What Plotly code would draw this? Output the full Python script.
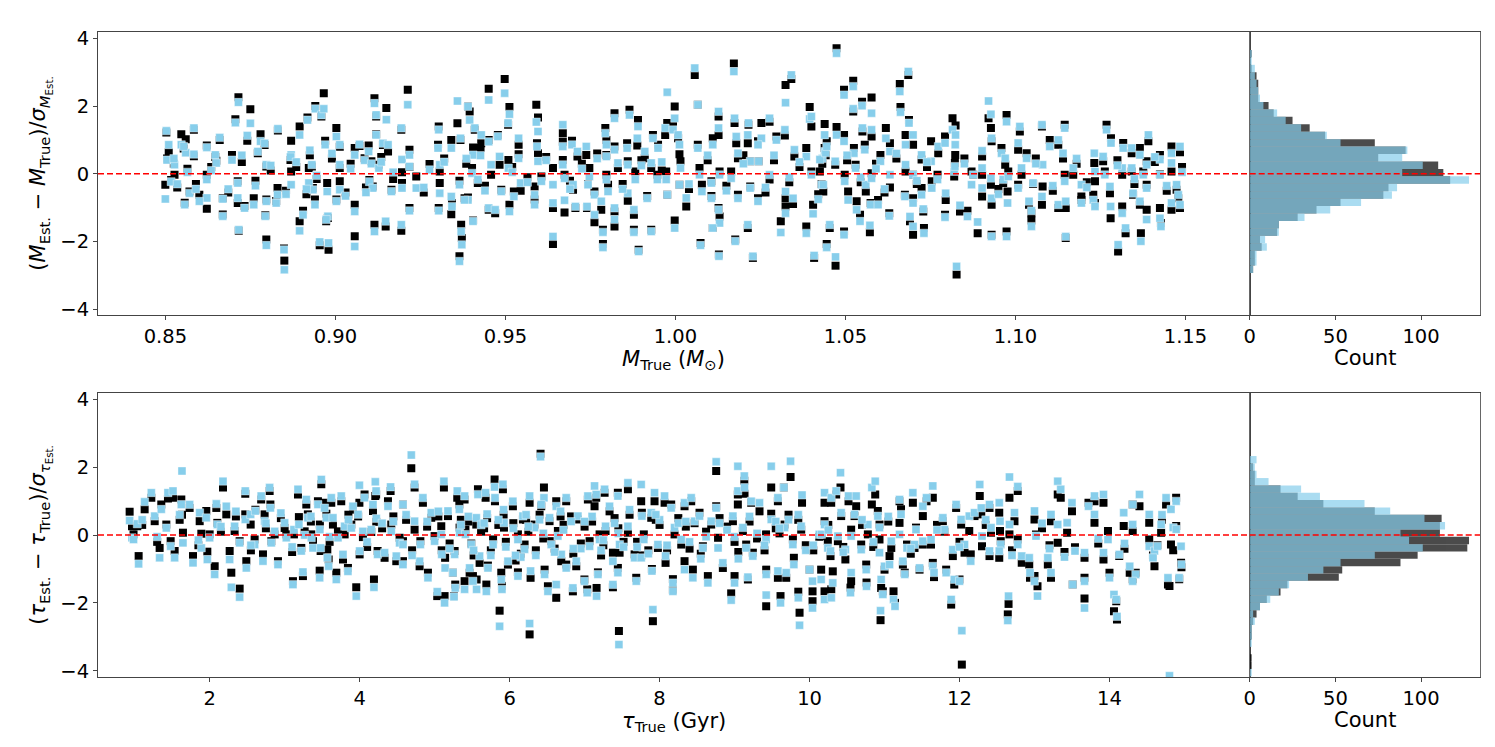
import numpy as np
import plotly.graph_objects as go
from plotly.subplots import make_subplots

# ---- top panel: mass residuals (black = first estimate, blue = second) ----
m_true = [
    .8503, .8510, .8505, .8500, .8517, .8527, .8547, .8560, .8557, .8554,
    .8571, .8584, .8584, .8622, .8622, .8622, .8600, .8647, .8660, .8669,
    .8669, .8650, .8696, .8706, .8715, .8750, .8741, .8713, .8716, .8713,
    .8733, .8760, .8772, .8780, .8792, .8797, .8797, .8794, .8797, .8826,
    .8830, .8831, .8850, .8849, .8870, .8868, .8870, .8895, .8895, .8905,
    .8918, .8922, .8931, .8934, .8941, .8959, .8966, .8970, .8976, .8940,
    .8980, .8954, .8978, .8973, .9003, .9013, .9013, .9013, .9003, .9057,
    .9057, .9057, .9071, .9086, .9098, .9100, .9115, .9120, .9150, .9120,
    .9140, .9106, .9110, .9115, .9148, .9155, .9128, .9165, .9194, .9194,
    .9213, .9196, .9196, .9218, .9218, .9238, .9218, .9277, .9304, .9302,
    .9307, .9307, .9304, .9341, .9343, .9341, .9359, .9368, .9365, .9370,
    .9372, .9365, .9390, .9395, .9410, .9405, .9402, .9390, .9405, .9380,
    .9427, .9429, .9419, .9451, .9451, .9458, .9451, .9470, .9483, .9478,
    .9498, .9512, .9508, .9509, .9488, .9512, .9525, .9545, .9539, .9539,
    .9591, .9596, .9593, .9596, .9586, .9586, .9606, .9640, .9640, .9640,
    .9669, .9669, .9696, .9669, .9674, .9674, .9699, .9706, .9712, .9738,
    .9747, .9743, .9740, .9762, .9762, .9782, .9787, .9787, .9794, .9797,
    .9797, .9797, .9802, .9821, .9821, .9821, .9821, .9831, .9858, .9860,
    .9860, .9865, .9878, .9878, .9890, .9888, .9882, .9892, .9910, .9934,
    .9929, .9929, .9917, .9949, .9947, .9976, .9970, .9973, .9976, .9998,
    .9998, .9993, 1.0008, 1.0012, 1.0015, 1.0012, 1.0032, 1.0057, 1.0066, 1.0066,
    1.0071, 1.0078, 1.0074, 1.0106, 1.0106, 1.0110, 1.0127, 1.0127, 1.0130, 1.0130,
    1.0127, 1.0128, 1.0110, 1.0172, 1.0174, 1.0179, 1.0184, 1.0176, 1.0164, 1.0184,
    1.0215, 1.0213, 1.0220, 1.0220, 1.0213, 1.0228, 1.0253, 1.0243, 1.0245, 1.0243,
    1.0277, 1.0297, 1.0277, 1.0310, 1.0324, 1.0341, 1.0324, 1.0324, 1.0322, 1.0350,
    1.0346, 1.0385, 1.0395, 1.0400, 1.0405, 1.0385, 1.0408, 1.0400, 1.0439, 1.0439,
    1.0432, 1.0430, 1.0474, 1.0425, 1.0442, 1.0445, 1.0435, 1.0454, 1.0445, 1.0471,
    1.0474, 1.0470, 1.0496, 1.0496, 1.0496, 1.0498, 1.0508, 1.0523, 1.0523, 1.0525,
    1.0530, 1.0533, 1.0543, 1.0549, 1.0550, 1.0557, 1.0560, 1.0577, 1.0572, 1.0577,
    1.0577, 1.0574, 1.0596, 1.0603, 1.0619, 1.0631, 1.0631, 1.0629, 1.0660, 1.0662,
    1.0677, 1.0685, 1.0687, 1.0677, 1.0675, 1.0699, 1.0690, 1.0699, 1.0699, 1.0699,
    1.0729, 1.0731, 1.0724, 1.0724, 1.0752, 1.0754, 1.0773, 1.0771, 1.0795, 1.0793,
    1.0793, 1.0815, 1.0824, 1.0823, 1.0820, 1.0822, 1.0837, 1.0859, 1.0827, 1.0871,
    1.0876, 1.0889, 1.0902, 1.0902, 1.0902, 1.0921, 1.0928, 1.0930, 1.0930, 1.0928,
    1.0930, 1.0959, 1.0964, 1.0974, 1.0970, 1.0977, 1.0974, 1.0979, 1.1013, 1.1008,
    1.1008, 1.1018, 1.1033, 1.1040, 1.1047, 1.1047, 1.1052, 1.1078, 1.1080, 1.1078,
    1.1101, 1.1126, 1.1126, 1.1145, 1.1145, 1.1148, 1.1148, 1.1140, 1.1170, 1.1194,
    1.1194, 1.1232, 1.1234, 1.1229, 1.1234, 1.1268, 1.1258, 1.1263, 1.1281, 1.1278,
    1.1280, 1.1302, 1.1317, 1.1314, 1.1314, 1.1324, 1.1342, 1.1342, 1.1346, 1.1366,
    1.1366, 1.1369, 1.1376, 1.1391, 1.1386, 1.1386, 1.1386, 1.1425, 1.1425, 1.1425,
    1.1428, 1.1459, 1.1459, 1.1459, 1.1474, 1.1484, 1.1484, 1.1479,
]
m_dev_black = [
    1.22, 0.64, 0.45, -0.32, -0.18, -0.03, 1.17, 1.02, -0.85, 0.75,
    -0.52, 1.30, 0.52, -0.03, -1.03, 0.84, -0.62, 0.50, 1.00, -1.20,
    -0.72, 0.39, 0.56, 1.61, 2.26, 1.91, 0.98, -0.22, -1.68, -0.86,
    -0.95, -0.72, 0.61, 1.17, 0.85, 0.22, -1.94, -1.22, -0.76, -0.80,
    -0.42, 1.28, -2.56, -2.20, 0.98, 0.41, 0.07, -1.40, 1.40, -1.09,
    1.66, 0.17, 0.22, -0.42, 2.00, 1.69, 2.38, 0.98, -0.27, -0.76,
    -2.24, -2.11, -1.30, -1.40, 1.35, 0.80, 0.17, -0.22, -0.76, -1.84,
    -0.91, 0.76, 0.82, 0.46, 0.84, -0.18, 2.23, 1.69, 1.94, 1.17,
    0.85, 0.37, -0.37, -1.50, -1.55, 0.66, 0.27, -0.47, 1.30, -1.68,
    2.48, 0.05, -0.27, 0.71, 0.20, -0.08, -1.01, 0.29, 1.40, 0.86,
    0.07, -0.27, -1.01, 1.00, -0.86, -1.19, 1.49, 1.00, -0.20, -1.50,
    -1.89, -2.43, 1.99, 1.84, 1.30, 0.78, 0.17, -0.70, -1.38, -0.72,
    0.76, 0.90, -0.27, 2.51, 1.00, -0.03, -1.06, -1.16, 0.27, 1.15,
    2.80, 1.97, 1.45, 0.41, -0.47, -0.91, -0.52, -0.50, 0.86, 0.58,
    2.04, 1.66, 0.90, 0.61, -0.37, -0.76, -0.08, 0.17, -1.01, -2.07,
    1.20, 0.95, 0.98, 0.41, -0.03, -1.14, -0.47, -1.01, 0.51, 0.56,
    0.17, -0.30, -1.01, -1.43, -0.52, -1.06, -1.65, -2.07, 1.35, 1.00,
    0.56, -0.03, -0.32, -1.11, -1.55, 1.79, 0.81, 0.17, 0.90, 0.37,
    -0.79, 1.89, -1.21, -1.65, 1.59, 0.84, 0.07, -2.24, 0.46, 1.15,
    0.17, -1.65, -0.65, 0.86, -0.03, 1.50, 1.15, 0.07, -0.62, -1.38,
    1.99, 1.45, 1.05, 0.58, 0.37, -0.32, -0.96, 2.92, 2.04, 0.86,
    0.17, -0.32, -2.04, -0.22, -0.65, 1.05, 1.69, 1.15, 0.07, -1.26,
    -1.01, -2.38, -1.60, 3.26, 1.50, 0.90, 0.46, -1.94, 0.07, -0.62,
    1.45, 0.90, 0.37, -0.37, -1.60, -2.48, 1.50, 0.96, 0.37, -0.72,
    1.54, 1.10, -0.17, -1.40, 2.62, 2.80, -0.72, -0.96, 1.13, 0.51,
    -0.89, 0.76, 1.97, 1.40, -0.91, -1.55, -2.48, 0.07, 1.47, 0.76,
    0.30, -0.30, 3.71, 0.07, 0.55, 0.96, -0.52, -1.60, -2.07, -2.71,
    1.38, 0.27, 2.48, -1.70, 1.15, -0.03, -0.52, 2.75, 1.84, 0.76,
    0.27, -0.81, -1.21, 2.13, 1.25, 0.86, -0.52, 2.25, -1.72, 1.10,
    0.02, -0.86, -0.77, 0.56, 1.35, 0.90, -0.40, -1.16, 2.65, 1.97,
    1.15, 2.92, 1.59, 0.07, -0.62, 0.86, -1.40, -1.80, -0.03, -0.72,
    -1.11, -1.60, 0.42, -0.42, 0.96, -0.22, 0.61, -0.03, -0.77, -1.21,
    1.10, 1.64, 1.43, 0.56, -0.08, 0.32, -1.11, -1.09, -2.97, 0.07,
    -0.03, -1.75, -0.67, 0.51, -0.03, 1.64, 1.35, 0.96, -0.91, -0.32,
    -1.80, 0.76, -0.27, 1.74, 0.27, -0.52, -1.70, 0.07, 1.25, 0.71,
    -0.32, -0.03, 0.61, -0.91, -1.38, -1.16, -0.30, 1.40, -0.37, -0.91,
    1.00, 0.86, -1.01, 1.45, -0.03, -1.01, -1.89, 0.45, -0.03, -0.67,
    -0.77, 0.32, -0.22, -0.62, -0.86, 1.45, 0.37, 0.07, 1.05, -0.57,
    -1.31, -2.29, 0.91, -0.03, -0.96, -1.75, 0.61, 0.07, -0.62, 0.76,
    -0.91, -1.75, 0.07, 0.96, 0.37, -1.06, -0.32, 0.56, -0.01, -1.01,
    -1.45, 0.81, 0.07, -1.06, -0.47, -1.01, 0.64, -0.72,
]
m_dev_blue = [
    1.27, 0.86, 0.41, -0.74, -0.23, 0.27, 0.86, 0.62, -0.91, 0.81,
    -0.57, 1.35, 0.58, -0.17, -0.71, 0.78, -0.81, 0.56, 1.07, -1.25,
    -0.74, 0.32, 0.41, 1.51, 2.11, 1.49, 1.13, -0.27, -1.65, -0.71,
    -1.01, -0.91, 0.66, 0.96, 0.90, 0.27, -2.11, -1.25, -0.81, -0.86,
    -0.62, 1.33, -2.83, -2.24, 0.56, 0.50, -0.32, -1.68, 1.15, -1.21,
    1.59, -0.27, 0.27, -0.47, 1.92, 1.74, 1.92, 0.86, -0.52, -0.91,
    -2.04, -2.01, -1.25, -1.35, 1.10, 0.86, 0.27, -0.47, -0.81, -2.14,
    -1.11, 0.56, 0.87, 0.40, 0.66, -0.23, 2.08, 1.74, 1.60, 1.15,
    0.90, 0.30, -0.42, -1.70, -1.40, 0.86, 0.17, -0.52, 1.35, -1.50,
    2.04, 0.42, -0.42, 0.56, 0.22, -0.42, -1.09, 0.12, 1.30, 0.76,
    0.27, -0.57, -1.09, 0.76, -0.96, -0.67, 2.15, 1.05, -0.32, -1.70,
    -2.09, -2.58, 1.99, 1.59, 1.35, 0.56, 0.02, -0.77, -1.40, -0.77,
    0.54, 1.15, -0.17, 2.18, 0.95, 0.27, -1.01, -1.06, 0.51, 1.10,
    2.38, 1.76, 1.50, 0.17, -0.52, -1.11, -0.67, -0.27, 1.05, 0.46,
    1.53, 1.25, 0.81, 0.37, -0.62, -0.91, -0.22, -0.32, -0.86, -1.85,
    1.45, 0.81, 0.86, 0.27, -0.13, -0.78, -0.32, -0.96, 0.66, 0.81,
    -0.08, -0.32, -0.96, -1.21, -0.62, -0.81, -1.72, -2.17, 1.20, 0.86,
    0.51, -0.17, -0.52, -1.01, -1.35, 1.64, 0.71, 0.32, 0.76, 0.27,
    -0.57, 1.74, -1.06, -1.72, 1.40, 1.05, -0.17, -2.29, 0.66, 1.05,
    0.32, -1.70, -0.72, 0.76, -0.17, 2.41, 1.35, -0.17, -0.62, -1.60,
    1.64, 1.30, 1.15, 0.86, 0.17, -0.32, -0.71, 3.12, 2.04, 0.76,
    -0.03, -0.52, -2.11, -0.27, -0.72, 0.86, 1.84, 1.35, -0.03, -1.45,
    -1.06, -2.43, -1.60, 3.02, 1.64, 1.10, 0.61, -1.99, -0.13, -0.72,
    1.50, 1.15, 0.37, -0.42, -1.50, -2.43, 1.05, 0.86, 0.37, -0.81,
    1.64, 1.00, -0.03, -1.73, 2.10, 2.92, -0.52, -1.16, 1.30, 0.71,
    -0.72, 0.51, 1.62, 1.69, -1.18, -1.75, -2.41, -0.03, 1.15, 0.66,
    0.45, -0.32, 3.56, 0.42, 0.62, 0.81, -0.32, -1.50, -2.17, -2.45,
    1.15, 0.37, 2.33, -1.80, 0.96, -0.22, -0.77, 2.58, 1.92, 0.61,
    0.17, -1.06, -1.40, 2.01, 1.35, 0.71, -0.32, 1.79, -1.52, 1.30,
    -0.13, -0.91, -0.91, 0.37, 1.05, 0.66, -0.03, -1.24, 2.43, 1.82,
    0.86, 3.02, 1.50, 0.27, -0.67, 1.15, -1.26, -1.55, -0.03, -0.86,
    -1.04, -1.75, 0.56, -0.62, 0.37, -0.42, 0.81, -0.17, -0.57, -1.28,
    0.91, 1.30, 1.15, 0.86, 0.07, 0.22, -0.93, -1.26, -2.73, -0.32,
    -0.03, -1.42, -0.42, 0.68, 0.17, 2.15, 1.76, 1.05, -0.72, -0.13,
    -1.85, 0.61, -0.17, 1.54, 0.46, -0.86, -1.85, -0.08, 1.40, 0.91,
    -0.42, 0.17, 0.46, -0.81, -1.55, -1.09, -0.27, 1.45, 0.27, -0.67,
    0.81, 1.00, -0.91, 1.35, -0.22, -0.81, -1.85, 0.61, 0.17, -0.32,
    -0.86, 0.61, 0.07, -0.77, -0.96, 1.30, 0.51, -0.03, 0.91, -0.37,
    -0.96, -2.09, 0.76, 0.17, -1.16, -1.60, 0.76, 0.17, -0.57, 0.56,
    -0.81, -1.99, -0.03, 1.15, 0.27, -1.35, -0.42, 0.42, -0.03, -1.31,
    -1.55, 0.61, 0.32, -0.86, -0.32, -0.91, 0.81, -0.62,
]
# densely packed points close to zero (read more loosely from the crowded band)
m_true_band = [
    0.8525, 0.8535, 0.8565, 0.8590, 0.8635, 0.8685, 0.8725, 0.8765, 0.8810, 0.8855,
    0.8885, 0.8915, 0.8925, 0.8945, 0.8990, 0.9030, 0.9045, 0.9090, 0.9135, 0.9170,
    0.9260, 0.9320, 0.9385, 0.9440, 0.9520, 0.9565, 0.9620, 0.9690, 0.9725, 0.9770,
    0.9845, 0.9900, 0.9960, 1.0040, 1.0095, 1.0150, 1.0200, 1.0265, 1.0290, 1.0335,
    1.0365, 1.0420, 1.0505, 1.0545, 1.0590, 1.0615, 1.0650, 1.0710, 1.0740, 1.0850,
    1.0950, 1.1060, 1.1110, 1.1180, 1.1210, 1.1300, 1.1350, 1.1410, 1.1445, 1.1490,
]
m_band_black = [
    0.30, -0.40, 0.15, -0.30, 0.20, -0.55, 0.35, -0.20, 0.10, -0.50,
    0.20, -0.60, 0.55, -0.15, 0.45, -0.55, 0.30, -0.40, 0.50, -0.15,
    -0.55, 0.45, 0.30, -0.35, 0.20, -0.10, 0.50, -0.20, 0.30, 0.60,
    -0.30, 0.40, 0.10, -0.45, 0.40, -0.35, 0.55, -0.55, 0.40, -0.25,
    0.20, -0.60, 0.40, -0.25, 0.30, -0.55, 0.45, -0.30, 0.20, 0.45,
    -0.45, 0.45, -0.50, 0.30, -0.25, 0.40, -0.30, 0.35, -0.50, 0.20,
]
m_band_blue = [
    0.45, -0.30, 0.05, -0.45, 0.10, -0.45, 0.55, -0.35, 0.25, -0.60,
    0.35, -0.45, 0.70, -0.05, 0.60, -0.65, 0.15, -0.55, 0.35, 0.05,
    -0.40, 0.35, 0.45, -0.50, 0.05, -0.25, 0.40, -0.45, 0.15, 0.45,
    -0.45, 0.25, 0.35, -0.30, 0.55, -0.50, 0.30, -0.40, 0.55, -0.10,
    0.35, -0.75, 0.55, -0.10, 0.15, -0.45, 0.60, -0.20, 0.35, 0.30,
    -0.60, 0.30, -0.35, 0.45, -0.40, 0.25, -0.15, 0.50, -0.35, 0.05,
]

# ---- bottom panel: age residuals ----
tau_true = [
    0.933, 0.964, 0.985, 1.053, 1.035, 1.133, 1.222, 1.267, 1.333, 1.355,
    1.444, 1.511, 1.422, 1.480, 1.533, 1.622, 1.631, 1.644, 1.733, 1.778,
    1.867, 1.889, 1.955, 1.969, 2.000, 2.089, 2.067, 2.102, 2.178, 2.222,
    2.267, 2.289, 2.333, 2.400, 2.400, 2.475, 2.475, 2.489, 2.547, 2.600,
    2.610, 2.687, 2.733, 2.711, 2.800, 2.810, 2.822, 2.911, 2.867, 3.000,
    3.022, 3.111, 3.124, 3.178, 3.190, 3.222, 3.244, 3.289, 3.310, 3.267,
    3.356, 3.378, 3.444, 3.489, 3.470, 3.480, 3.467, 3.533, 3.556, 3.569,
    3.587, 3.622, 3.689, 3.644, 3.711, 3.755, 3.778, 3.800, 3.844, 3.889,
    3.911, 3.955, 3.997, 3.980, 4.000, 4.044, 4.066, 4.155, 4.178, 4.191,
    4.209, 4.220, 4.222, 4.240, 4.333, 4.378, 4.422, 4.413, 4.489, 4.533,
    4.578, 4.689, 4.733, 4.620, 4.578, 4.578, 4.733, 4.800, 4.844, 4.810,
    4.911, 4.955, 5.000, 5.035, 5.133, 5.124, 5.089, 5.095, 5.178, 5.140,
    5.267, 5.244, 5.275, 5.302, 5.330, 5.333, 5.258, 5.400, 5.411, 5.400,
    5.467, 5.511, 5.489, 5.556, 5.578, 5.600, 5.560, 5.680, 5.690, 5.711,
    5.800, 5.805, 5.780, 5.867, 5.889, 5.898, 5.911, 5.925, 5.978, 6.044,
    6.111, 6.111, 6.178, 6.200, 6.267, 6.267, 6.280, 6.333, 6.413, 6.458,
    6.422, 6.467, 6.511, 6.533, 6.555, 6.622, 6.622, 6.644, 6.689, 6.755,
    6.755, 6.844, 6.889, 6.911, 6.998, 7.044, 7.035, 7.067, 7.133, 7.155,
    7.160, 7.178, 7.200, 7.267, 7.280, 7.333, 7.378, 7.378, 7.444, 7.458,
    7.444, 7.467, 7.578, 7.578, 7.667, 7.689, 7.755, 7.764, 7.790, 7.755,
    7.889, 7.911, 7.898, 7.933, 7.978, 8.067, 8.080, 8.178, 8.178, 8.155,
    8.200, 8.289, 8.333, 8.333, 8.422, 8.444, 8.467, 8.533, 8.578, 8.644,
    8.689, 8.755, 8.755, 8.780, 8.844, 8.955, 8.978, 9.000, 9.044, 9.044,
    9.133, 9.130, 9.111, 9.155, 9.178, 9.222, 9.244, 9.333, 9.422, 9.422,
    9.420, 9.489, 9.489, 9.578, 9.578, 9.613, 9.667, 9.658, 9.747, 9.689,
    9.778, 9.791, 9.867, 9.850, 9.900, 9.889, 10.000, 10.040, 10.040, 10.130,
    10.200, 10.200, 5.45, 5.62, 5.70, 5.85, 5.95, 6.05, 6.15, 6.25,
    6.35, 6.40, 6.60, 6.72, 6.82, 6.95, 7.10, 7.22, 7.40, 7.52,
    7.60, 7.85, 8.00, 8.25, 8.40, 8.62, 8.90, 9.05, 9.30, 9.55,
    9.72, 9.95, 10.413, 10.289, 10.355, 10.160, 10.244, 10.280, 10.155, 10.200,
    10.310, 10.290, 10.378, 10.422, 10.478, 10.555, 10.555, 10.546, 10.520, 10.622,
    10.600, 10.689, 10.778, 10.756, 10.760, 10.831, 10.876, 10.911, 10.933, 10.947,
    10.955, 10.978, 10.933, 11.000, 11.067, 11.120, 11.140, 11.090, 11.200, 11.200,
    11.220, 11.300, 11.245, 11.270, 11.400, 11.420, 11.378, 11.467, 11.511, 11.511,
    11.560, 11.644, 11.620, 11.644, 11.660, 11.778, 11.822, 11.800, 11.889, 11.911,
    11.930, 11.955, 12.022, 12.067, 12.031, 12.000, 12.130, 12.150, 12.200, 12.270,
    12.290, 12.300, 12.400, 12.400, 12.420, 12.530, 12.540, 12.550, 12.530, 12.644,
    12.654, 12.666, 12.666, 12.777, 12.733, 12.777, 12.830, 12.930, 12.940, 13.000,
    13.040, 13.000, 13.020, 13.178, 13.200, 13.220, 13.220, 13.310, 13.350, 13.310,
    13.435, 13.500, 13.510, 13.540, 13.667, 13.667, 13.667, 13.720, 13.800, 13.800,
    13.920, 13.920, 13.980, 14.000, 14.060, 14.090, 14.100, 14.130, 14.190, 14.310,
    14.270, 14.350, 14.310, 14.400, 14.310, 14.530, 14.530, 14.600, 14.580, 14.689,
    14.640, 14.780, 14.755, 14.820, 14.850, 14.889, 14.955, 14.960, 14.930, 14.800, 14.890,
]
tau_dev_black = [
    0.69, 0.26, 0.02, -0.62, 0.26, 0.76, 1.10, 0.41, -0.38, 0.90,
    1.08, 1.10, 0.31, -0.18, -0.47, 1.05, 0.60, 0.07, 0.80, -0.62,
    0.41, 0.04, 0.71, -0.49, 0.02, 0.80, -0.92, 0.36, 1.40, 0.61,
    -0.47, -1.11, 0.12, -1.58, -0.18, 0.61, 1.22, -0.77, 0.31, -0.13,
    0.75, 1.05, 0.61, -0.57, 1.30, 0.90, -0.18, -0.77, 0.02, 0.21,
    0.02, -1.36, 0.02, 1.20, 0.53, -0.38, -1.21, 0.90, 0.61, 0.11,
    0.02, -0.18, 1.00, 1.50, 0.31, -0.47, -1.05, 0.95, 0.63, -0.43,
    -0.72, 0.95, -1.11, 0.31, 0.11, 1.00, -0.72, 0.02, -0.97, 0.31,
    0.75, -1.54, 0.95, 0.55, -0.57, -0.06, 1.20, 0.09, 0.71, -1.31,
    1.15, 1.20, 0.39, -0.47, -0.67, 1.00, 0.31, 1.30, -0.77, -0.08,
    0.90, 1.97, 1.40, 0.45, -0.18, -0.77, 0.16, -0.92, 0.95, -0.18,
    -1.11, 0.51, -0.03, -1.80, -1.80, 1.40, 0.26, -0.45, 0.56, -0.67,
    -0.47, -1.11, -1.46, 1.10, 0.90, 0.22, -1.80, 1.05, 0.16, -1.36,
    -1.11, -1.21, -0.25, 0.31, 1.35, -0.82, -1.31, 1.10, -1.46, -0.90,
    1.64, 1.00, -0.13, -2.23, -1.11, -1.50, 1.35, 0.22, -0.87, 0.85,
    0.02, -1.10, 0.46, -0.28, -2.93, 0.95, -1.26, 0.31, 2.40, 1.40,
    0.85, -1.02, -1.51, 0.41, -0.18, -1.85, 1.00, 0.12, -0.77, -0.87,
    1.00, -1.66, -0.92, 0.46, -1.31, 1.05, -1.60, -0.18, 0.85, 1.10,
    -1.56, -1.10, 0.02, 1.25, 0.12, 0.70, -0.52, -1.54, 1.25, -2.83,
    -0.97, -0.52, 1.35, 0.07, -0.57, -1.26, 1.00, 0.66, 0.02, -0.60,
    0.51, -2.54, -1.00, 1.00, -0.38, 0.95, -0.82, -1.61, -1.30, 0.90,
    0.02, -0.28, -0.77, 0.85, 1.00, -1.02, 0.35, 0.66, -0.33, -1.21,
    0.31, 1.89, 0.85, -0.08, -0.97, -1.72, 0.41, -1.21, 0.90, 1.20,
    1.22, 1.60, 0.12, -0.28, -1.31, 0.95, -0.52, 0.70, -2.10, -1.02,
    0.02, 1.40, 0.63, 1.00, -1.26, -1.80, 0.31, 1.40, 1.71, -1.26,
    -0.13, -0.67, -2.29, -1.67, 0.95, 0.16, -1.02, -1.66, -1.95, -0.05,
    0.95, 0.41, 0.40, 0.10, 0.50, 0.30, -0.20, 0.35, -0.55, 0.10,
    -0.45, 0.60, -0.40, 0.30, 0.55, -0.25, 0.40, -0.60, 0.50, -0.20,
    0.60, -0.45, 0.30, 0.50, -0.40, 0.10, 0.25, -0.50, -0.10, 0.20,
    0.60, -0.30, 1.40, 0.95, 1.20, -0.03, -0.18, -0.62, -1.02, -1.66,
    -1.07, -1.60, -0.18, 0.56, -0.72, 0.16, -1.36, -1.55, 1.00, 0.85,
    0.56, -0.28, 0.02, -0.87, -1.40, 0.90, 1.20, 0.71, -0.13, -2.51,
    -1.56, -1.66, 0.31, -1.02, -0.62, -1.66, -2.00, -0.38, 0.36, 1.00,
    0.76, -0.28, -0.87, -1.11, -0.38, 0.22, 0.95, -1.02, -0.28, 0.56,
    1.00, 1.10, -0.28, -0.82, -1.24, 0.41, -1.02, 0.10, -2.05, -0.62,
    -1.46, 0.80, 0.31, -0.52, -3.82, -1.31, 0.12, -0.57, 0.56, 1.15,
    0.61, -0.33, -0.62, 0.80, 0.07, 0.66, 0.12, -0.18, -0.67, -2.34,
    -2.03, 1.10, 0.02, 1.30, 0.41, -0.13, -0.82, -0.87, -1.26, -1.21,
    -1.51, 0.46, 0.02, -0.87, -0.30, -1.26, 0.41, 1.20, 1.10, -0.23,
    0.07, 0.70, -1.46, -0.36, -0.67, -1.87, -1.26, 0.95, 1.00, 0.36,
    -0.72, 0.95, 0.12, -1.11, -2.25, -1.95, -2.49, -0.62, 0.27, 0.12,
    -1.11, -1.11, -1.30, 0.85, 0.90, -0.13, 0.36, -0.92, -0.60, 0.07,
    -0.30, -1.46, 0.90, -0.28, -0.45, 1.10, -0.82, -0.95, -1.30, -1.50, 0.27,
]
tau_dev_blue = [
    0.43, -0.08, -0.13, -0.85, 0.33, 0.98, 1.25, 0.56, -0.67, 0.76,
    1.25, 1.30, 0.21, -0.33, -0.67, 0.90, 1.89, -0.23, 0.90, -0.82,
    0.66, -0.38, 0.51, -0.72, -0.08, 0.92, -1.16, 0.31, 1.59, 0.85,
    -0.72, -1.54, 0.26, -1.83, -0.23, 0.46, 1.30, -0.97, 0.61, -0.28,
    0.71, 1.15, 0.41, -0.77, 1.40, 0.80, -0.23, -0.87, 0.11, 0.36,
    -0.08, -1.46, 0.16, 1.35, 0.31, -0.47, -1.09, 1.05, 0.51, 0.00,
    -0.08, -0.38, 0.90, 1.64, 0.16, -0.38, -1.26, 0.80, 0.51, -0.67,
    -0.92, 1.10, -1.31, 0.51, -0.08, 1.15, -0.57, 0.26, -1.07, 0.21,
    0.85, -1.80, 1.47, 0.61, -0.47, 0.11, 1.10, 0.16, 0.90, -1.54,
    1.57, 1.30, 0.49, -0.57, -0.52, 0.85, 0.11, 1.42, -0.62, -0.23,
    0.90, 2.36, 1.50, 0.60, -0.28, -0.87, 0.41, -0.77, 1.10, -0.28,
    -1.26, 0.66, -0.18, -1.67, -2.00, 1.59, 0.02, -0.57, 0.71, -0.97,
    -0.57, -1.11, -1.56, 1.30, 0.76, 0.07, -1.82, 1.15, 0.02, -1.60,
    -0.97, -1.36, -0.28, 0.51, 1.20, -0.62, -1.60, 1.25, -1.66, -0.97,
    1.42, 1.10, -0.28, -2.69, -1.31, -1.60, 1.50, 0.36, -0.77, 1.00,
    -0.13, -1.21, 0.56, -0.42, -2.61, 1.15, -1.06, 0.22, 2.31, 1.10,
    0.90, -1.16, -1.66, 0.51, -0.28, -1.46, 0.85, -0.03, -0.57, -0.97,
    1.10, -1.56, -0.77, 0.56, -1.36, 1.15, -1.70, -0.33, 1.45, 1.20,
    -1.80, -1.16, -0.13, 1.35, 0.26, 0.85, -0.77, -1.46, 1.15, -3.23,
    -1.11, -0.28, 1.54, 0.26, -0.67, -1.36, 1.49, 0.56, -0.13, -0.67,
    0.66, -2.20, -1.06, 1.25, -0.28, 1.15, -0.62, -1.66, -1.41, 0.80,
    0.22, -0.13, -1.02, 0.95, 1.10, -1.26, 0.41, 0.56, -0.38, -1.41,
    0.41, 2.16, 0.80, -0.38, -0.82, -1.92, 0.56, -1.41, 2.03, 1.30,
    1.40, 1.74, 0.22, -0.38, -1.24, 1.00, -0.62, 0.95, -1.77, -1.16,
    -0.13, 2.03, 0.46, 1.10, -1.06, -2.00, 0.22, 1.40, 2.18, -1.11,
    -0.28, -0.87, -2.66, -1.85, 1.18, 0.26, -1.02, -1.36, -2.15, 0.02,
    1.25, 0.31, 0.55, 0.30, 0.62, 0.45, -0.35, 0.20, -0.65, 0.25,
    -0.60, 0.45, -0.50, 0.15, 0.40, -0.40, 0.55, -0.45, 0.35, -0.35,
    0.75, -0.55, 0.45, 0.35, -0.20, -0.05, 0.15, -0.70, 0.05, 0.40,
    0.45, -0.45, 1.84, 1.10, 1.30, 0.02, -0.38, -0.47, -1.31, -1.90,
    -1.41, -1.85, -0.03, 0.66, -0.43, -0.03, -1.11, -1.70, 1.15, 1.15,
    0.61, -0.43, 0.31, -1.02, -1.51, 1.40, 1.59, 0.56, -0.52, -2.23,
    -1.31, -1.75, 0.22, -0.92, -0.87, -1.90, -2.10, -0.18, 0.02, 1.05,
    0.61, -0.38, -0.77, -1.16, -0.28, 0.16, 1.25, -0.97, -0.18, 0.85,
    1.10, 1.45, -0.13, -0.92, -1.11, 0.51, -1.11, 0.16, -1.90, -0.43,
    -1.31, 0.90, 0.46, -0.28, -2.82, -1.36, 0.56, -0.77, 0.66, 1.49,
    0.80, -0.03, -0.47, 0.90, 0.22, 0.95, 0.41, -0.28, -0.47, -2.52,
    -1.80, 1.71, 0.31, 1.43, 0.66, -0.28, -0.62, -0.67, -1.11, -1.36,
    -1.80, 0.71, -0.03, -0.67, -0.40, -1.11, 0.61, 1.59, 1.35, 0.31,
    0.36, 0.95, -1.46, -0.47, -0.52, -2.15, -1.36, 0.85, 1.15, 0.61,
    -0.52, 1.20, -0.13, -1.26, -1.75, -1.90, -2.40, -0.57, 0.66, 0.31,
    -0.92, -1.16, -1.36, 1.20, 0.90, -0.33, 0.61, -0.47, -0.67, 0.31,
    -0.33, -1.26, 1.10, 0.76, 0.22, 1.00, -0.33, -0.87, -1.26, -4.15, 0.17,
]
tau_true_band = [
    1.10, 1.30, 1.60, 1.85, 2.15, 2.35, 2.55, 2.75, 2.95, 3.10,
    3.35, 3.60, 3.85, 4.10, 4.30, 4.45, 4.70, 4.90, 5.05, 5.20,
    5.35, 5.52, 5.66, 5.75, 5.92, 6.08, 6.22, 6.45, 6.68, 6.85,
    7.00, 7.25, 7.45, 7.70, 7.95, 8.10, 8.35, 8.55, 8.80, 9.00,
    9.20, 9.40, 9.60, 9.85, 10.05, 10.25, 10.45, 10.70, 10.85, 11.05,
    11.35, 11.70, 12.00, 12.35, 12.70, 13.10, 13.40, 13.85, 14.20, 14.70,
]
tau_band_black = [
    0.30, -0.20, 0.45, -0.30, 0.10, 0.55, -0.45, 0.20, 0.50, -0.50,
    0.40, -0.20, 0.60, -0.35, 0.20, 0.55, -0.45, 0.25, 0.55, -0.25,
    0.45, -0.60, 0.20, -0.45, 0.60, -0.75, 0.45, -0.10, 0.55, -0.55,
    0.25, -0.30, 0.20, -0.20, 0.45, -0.45, 0.25, -0.55, 0.50, -0.20,
    0.40, -0.45, 0.05, 0.45, -0.45, 0.30, -0.35, 0.30, -0.35, 0.40,
    -0.55, 0.30, -0.20, 0.30, -0.45, 0.20, -0.50, -0.25, -0.40, 0.45,
]
tau_band_blue = [
    0.45, -0.05, 0.60, -0.15, 0.25, 0.70, -0.30, 0.35, 0.65, -0.35,
    0.55, -0.05, 0.45, -0.20, 0.35, 0.40, -0.60, 0.40, 0.70, -0.40,
    0.30, -0.45, 0.35, -0.60, 0.75, -0.60, 0.60, 0.05, 0.70, -0.40,
    0.40, -0.15, 0.05, -0.35, 0.60, -0.30, 0.40, -0.70, 0.35, -0.05,
    0.55, -0.30, 0.20, 0.60, -0.30, 0.15, -0.50, 0.45, -0.20, 0.55,
    -0.40, 0.15, -0.35, 0.45, -0.60, 0.35, -0.65, -0.10, -0.25, 0.60,
]

# ---- marginal histograms (counts per bin, lowest bin first) ----
m_bin_lo, m_bin_hi = -2.925, 3.656
m_hist_black = [2, 3, 3, 7, 6, 16, 17, 28, 39, 53, 78, 81, 117, 113, 110,
                75, 91, 73, 44, 35, 25, 14, 11, 5, 5, 5, 4, 1, 0, 1]
m_hist_blue = [2, 4, 4, 10, 9, 17, 17, 32, 47, 65, 83, 86, 128, 89, 101,
               89, 92, 53, 45, 30, 21, 16, 8, 6, 5, 4, 3, 3, 1, 1]

tau_bin_lo, tau_bin_hi = -4.165, 2.331
tau_hist_black = [0, 1, 1, 0, 0, 1, 1, 2, 4, 6, 10, 18, 22, 52, 54,
                  88, 98, 127, 128, 111, 111, 112, 73, 43, 28, 18, 3, 3, 2, 0]
tau_hist_blue = [1, 0, 0, 0, 1, 1, 1, 3, 2, 6, 12, 17, 23, 34, 43,
                 53, 73, 101, 93, 88, 114, 102, 82, 67, 41, 30, 11, 4, 3, 4]

assert len(m_true) == len(m_dev_black) == len(m_dev_blue)
assert len(m_true_band) == len(m_band_black) == len(m_band_blue)
assert len(tau_true) == len(tau_dev_black) == len(tau_dev_blue)
assert len(tau_true_band) == len(tau_band_black) == len(tau_band_blue)

FONT = "DejaVu Sans, sans-serif"
SKY = "#87CEEB"
AX = "#444444"
TICK_SIZE = 19.5
TITLE_SIZE = 21


def bin_centres(lo, hi, n):
    edges = np.linspace(lo, hi, n + 1)
    return (edges[:-1] + edges[1:]) / 2, edges[1] - edges[0]


fig = make_subplots(rows=2, cols=2, horizontal_spacing=0, vertical_spacing=0.1)

panels = [
    (1, m_true + m_true_band, m_dev_black + m_band_black, m_dev_blue + m_band_blue),
    (2, tau_true + tau_true_band, tau_dev_black + tau_band_black, tau_dev_blue + tau_band_blue),
]
# scatters: black first, sky blue drawn over it
for row, xs, yk, yb in panels:
    fig.add_trace(go.Scatter(x=xs, y=yk, mode="markers",
                             marker=dict(symbol="square", size=8, color="black",
                                         line=dict(width=0))),
                  row=row, col=1)
    fig.add_trace(go.Scatter(x=xs, y=yb, mode="markers",
                             marker=dict(symbol="square", size=8, color=SKY,
                                         line=dict(width=0.5, color="rgba(255,255,255,0.8)"))),
                  row=row, col=1)

# histograms
for row, lo, hi, hk, hb in [(1, m_bin_lo, m_bin_hi, m_hist_black, m_hist_blue),
                            (2, tau_bin_lo, tau_bin_hi, tau_hist_black, tau_hist_blue)]:
    yc, w = bin_centres(lo, hi, len(hk))
    fig.add_trace(go.Bar(x=hk, y=yc, width=w, orientation="h", opacity=0.7,
                         marker=dict(color="black", line=dict(width=0))),
                  row=row, col=2)
    fig.add_trace(go.Bar(x=hb, y=yc, width=w, orientation="h", opacity=0.7,
                         marker=dict(color=SKY, line=dict(width=0))),
                  row=row, col=2)

W, H = 1495, 747
x_dom = [90 / W, 1241.7 / W]
h_dom = [1241.7 / W, 1472 / W]
top_dom = [1 - 307 / H, 1 - 24 / H]
bot_dom = [1 - 669 / H, 1 - 385 / H]

axis_common = dict(showline=True, linecolor=AX, linewidth=1, mirror=True,
                   ticks="outside", ticklen=4, tickcolor=AX, showgrid=False,
                   zeroline=False, tickfont=dict(size=TICK_SIZE, color="black"),
                   automargin=False)

fig.update_layout(
    width=W, height=H, showlegend=False, barmode="overlay",
    plot_bgcolor="white", paper_bgcolor="white",
    margin=dict(l=0, r=0, t=0, b=0),
    font=dict(family=FONT, size=TICK_SIZE, color="black"),
    xaxis=dict(axis_common, domain=x_dom, range=[0.8302, 1.1689],
               tickvals=[0.85, 0.90, 0.95, 1.00, 1.05, 1.10, 1.15], tickformat=".2f"),
    yaxis=dict(axis_common, domain=top_dom, range=[-4.165, 4.186], tickvals=[-4, -2, 0, 2, 4],
               title=dict(text="(<i>M</i><sub>Est.</sub> − <i>M</i><sub>True</sub>)/<i>σ</i><sub><i>M</i><sub>Est.</sub></sub>",
                          standoff=8, font=dict(size=TITLE_SIZE))),
    xaxis2=dict(axis_common, domain=h_dom, range=[0, 134.4], tickvals=[0, 50, 100]),
    yaxis2=dict(axis_common, domain=top_dom, matches="y", showticklabels=False, ticks="",
                linecolor="#666666"),
    xaxis3=dict(axis_common, domain=x_dom, range=[0.511, 15.87],
                tickvals=[2, 4, 6, 8, 10, 12, 14]),
    yaxis3=dict(axis_common, domain=bot_dom, range=[-4.186, 4.19], tickvals=[-4, -2, 0, 2, 4],
                title=dict(text="(<i>τ</i><sub>Est.</sub> − <i>τ</i><sub>True</sub>)/<i>σ</i><sub><i>τ</i><sub>Est.</sub></sub>",
                           standoff=8, font=dict(size=TITLE_SIZE))),
    xaxis4=dict(axis_common, domain=h_dom, range=[0, 134.4], tickvals=[0, 50, 100]),
    yaxis4=dict(axis_common, domain=bot_dom, matches="y3", showticklabels=False, ticks="",
                linecolor="#666666"),
)

# x-axis titles placed as annotations so they sit at the reference height
x_titles = [
    ("x domain", 1 - 352 / H, "<i>M</i><sub>True</sub> (<i>M</i><sub>⊙</sub>)"),
    ("x2 domain", 1 - 350 / H, "Count"),
    ("x3 domain", 1 - 713.5 / H, "<i>τ</i><sub>True</sub> (Gyr)"),
    ("x4 domain", 1 - 711.5 / H, "Count"),
]
for xref, ypos, txt in x_titles:
    fig.add_annotation(text=txt, xref=xref, yref="paper", x=0.5, y=ypos,
                       xanchor="center", yanchor="middle", showarrow=False,
                       font=dict(size=TITLE_SIZE, color="black"))

# red dashed zero lines on every panel
for xr, yr in [("x", "y"), ("x2", "y2"), ("x3", "y3"), ("x4", "y4")]:
    fig.add_shape(type="line", xref=f"{xr} domain", yref=yr, x0=0, x1=1, y0=0, y1=0,
                  line=dict(color="red", width=1.5, dash="6px,3px"), layer="above")

fig.write_html("out.html")
